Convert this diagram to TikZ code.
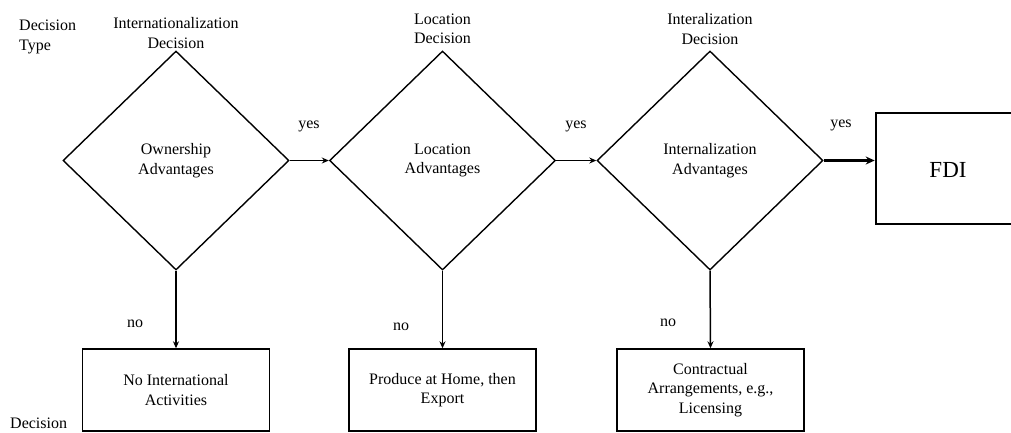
\documentclass[tikz,border=0pt]{standalone}
\usepackage{fontspec}
\setmainfont{Liberation Serif}
\usetikzlibrary{shapes.geometric,arrows.meta}
\begin{document}
\begin{tikzpicture}[x=1pt,y=-1pt,
  txt/.style={font=\fontsize{16}{19.5}\selectfont, align=center, inner sep=0pt},
  choice/.style={diamond, draw, line width=1.4pt, minimum width=226pt, minimum height=219pt, inner sep=0pt, txt},
  outcome/.style={rectangle, draw, line width=1.4pt, minimum width=187pt, minimum height=82pt, inner sep=0pt, txt},
  flow/.style={line width=1.5pt, -{Stealth[length=7pt,width=6pt]}},
  bigflow/.style={line width=2.4pt, -{Stealth[length=9pt,width=8pt]}}]
\useasboundingbox (0,0) rectangle (1011,432);

% decision diamonds
\node[choice] (own) at (176,160.5) {Ownership\\Advantages};
\node[choice] (loc) at (442.5,160.5) {Location\\Advantages};
\node[choice] (int) at (710,160.5) {Internalization\\Advantages};

% final outcome: the box runs past the right edge of the page
\node[rectangle, draw, line width=2.6pt, minimum width=180pt, minimum height=111pt,
      inner sep=0pt] (fdi) at (966,168.5) {};
\node[inner sep=0pt, font=\fontsize{23}{27}\selectfont] (fdit) at (948,170) {FDI};

% outcomes of a negative answer
\node[outcome] (home) at (176,390) {No International\\Activities};
\node[outcome] (exp) at (442.5,390) {Produce at Home, then\\Export};
\node[outcome] (lic) at (710.5,390) {Contractual\\Arrangements, e.g.,\\Licensing};

% decision headings
\node[txt, anchor=west, align=left] (typ) at (19,37) {Decision\\Type};
\node[txt] (h1) at (176,33) {Internationalization\\Decision};
\node[txt] (h2) at (442.5,29) {Location\\Decision};
\node[txt] (h3) at (710,29) {Interalization\\Decision};
\node[txt, anchor=west] (dec) at (10,423) {Decision};

% yes branches
\draw[flow] (own.east) -- (loc.west);
\draw[flow] (loc.east) -- (int.west);
\draw[bigflow] (int.east) -- (int.east -| fdi.west);
\node[txt] (y1) at (309,126) {yes};
\node[txt] (y2) at (576,126) {yes};
\node[txt] (y3) at (841,125) {yes};

% no branches
\draw[flow] (own.south) -- (home.north);
\draw[flow] (loc.south) -- (exp.north);
\draw[flow] (int.south) -- (lic.north);
\node[txt] (n1) at (135,324) {no};
\node[txt] (n2) at (401,327) {no};
\node[txt] (n3) at (668,323) {no};
\end{tikzpicture}
\end{document}
